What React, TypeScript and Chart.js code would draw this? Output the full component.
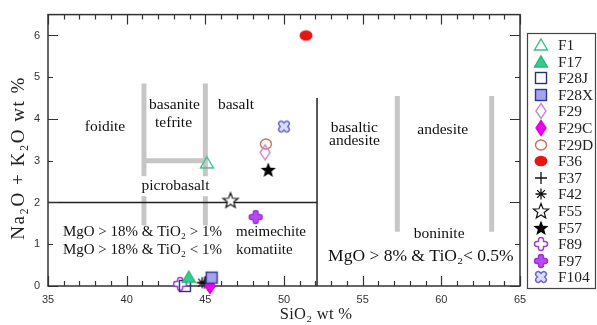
import React, { useEffect, useRef } from 'react';
import { Chart, registerables } from 'chart.js';

Chart.register(...registerables);

// ---- data ----
const seriesNames = ['F1', 'F17', 'F28J', 'F28X', 'F29', 'F29C', 'F29D', 'F36', 'F37', 'F42', 'F55', 'F57', 'F89', 'F97', 'F104'];
const sio2 = [45.1, 43.95, 43.7, 45.4, 48.8, 45.3, 48.85, 51.4, 44.95, 44.8, 46.6, 49.0, 43.4, 48.2, 50.0];
const alkali = [2.95, 0.21, 0.0, 0.2, 3.2, 0.0, 3.4, 6.0, 0.08, 0.08, 2.05, 2.78, 0.05, 1.65, 3.82];

const xTickValues = [35, 40, 45, 50, 55, 60, 65];
const yTickValues = [0, 1, 2, 3, 4, 5, 6];

// diagram boundaries (data coordinates)
const greyBoundaries = [
  [[41.1, 1.45], [41.1, 4.85]],
  [[45.0, 1.45], [45.0, 4.85]],
  [[41.1, 3.0], [45.0, 3.0]],
  [[57.2, 1.3], [57.2, 4.55]],
  [[63.2, 1.3], [63.2, 4.55]],
];
const blackBoundaries = [
  [[35, 2.0], [52.1, 2.0]],
  [[52.1, 0], [52.1, 4.5]],
];

const fieldNames = ['foidite', 'basanite', 'tefrite', 'basalt', 'picrobasalt', 'basaltic', 'andesite', 'andesite', 'boninite', 'MgO > 8% & TiO₂< 0.5%', 'MgO > 18% & TiO₂ > 1%', 'meimechite', 'MgO > 18% & TiO₂ < 1%', 'komatiite'];
const fieldX = [38.62, 43.04, 42.98, 46.95, 43.1, 54.47, 54.48, 60.09, 59.86, 58.7, 35.95, 46.95, 35.95, 46.95];
const fieldY = [3.8, 4.33, 3.9, 4.33, 2.39, 3.79, 3.47, 3.74, 1.24, 0.7, 1.29, 1.29, 0.86, 0.86];

// ---- styles ----
const markerKinds = ['triOpen', 'triFilled', 'sqOpen', 'sqFilled', 'diaOpen', 'diaFilled', 'ellOpen', 'ellFilled', 'plus', 'asterisk', 'starOpen', 'starFilled', 'fatPlusOpen', 'fatPlusFilled', 'fatX'];
const fieldAlign = ['center', 'center', 'center', 'center', 'center', 'center', 'center', 'center', 'center', 'center', 'left', 'left', 'left', 'left'];
const fieldSize = [15.5, 15.5, 15.5, 15.5, 15.5, 15.5, 15.5, 15.5, 15.5, 17.5, 15, 15, 15, 15];
const fieldWhiteBg = [false, false, false, false, true, false, false, false, false, false, false, false, false, false];

const SERIF = '"Liberation Serif", "Times New Roman", serif';
const SANS = '"Liberation Sans", Arial, sans-serif';

function makeMarker(kind: string): HTMLCanvasElement {
  const S = 20;
  const cv = document.createElement('canvas');
  cv.width = S;
  cv.height = S;
  const c = cv.getContext('2d') as CanvasRenderingContext2D;
  const m = S / 2;
  const tri = () => {
    c.beginPath();
    c.moveTo(m, m - 6);
    c.lineTo(m + 6.5, m + 5);
    c.lineTo(m - 6.5, m + 5);
    c.closePath();
  };
  const dia = () => {
    c.beginPath();
    c.moveTo(m, m - 7.5);
    c.lineTo(m + 5, m);
    c.lineTo(m, m + 7.5);
    c.lineTo(m - 5, m);
    c.closePath();
  };
  const star = () => {
    c.beginPath();
    for (let i = 0; i < 10; i++) {
      const r = i % 2 === 0 ? 8 : 3.4;
      const a = -Math.PI / 2 + (i * Math.PI) / 5;
      const px = m + r * Math.cos(a);
      const py = m + 0.5 + r * Math.sin(a);
      if (i === 0) c.moveTo(px, py);
      else c.lineTo(px, py);
    }
    c.closePath();
  };
  const fat = (rot: number, outer: string, inner: string) => {
    c.save();
    c.translate(m, m);
    c.rotate(rot);
    c.lineCap = 'round';
    c.beginPath();
    c.moveTo(-4, 0);
    c.lineTo(4, 0);
    c.moveTo(0, -4);
    c.lineTo(0, 4);
    c.strokeStyle = outer;
    c.lineWidth = 6.5;
    c.stroke();
    c.strokeStyle = inner;
    c.lineWidth = 3.6;
    c.stroke();
    c.restore();
  };
  c.lineWidth = 1.4;
  switch (kind) {
    case 'triOpen':
      tri();
      c.strokeStyle = '#3fbf8c';
      c.stroke();
      break;
    case 'triFilled':
      tri();
      c.fillStyle = '#33cc8e';
      c.fill();
      c.strokeStyle = '#2bb57c';
      c.stroke();
      break;
    case 'sqOpen':
      c.strokeStyle = '#2e2e80';
      c.strokeRect(m - 5.5, m - 5.5, 11, 11);
      break;
    case 'sqFilled':
      c.fillStyle = '#a4a4ee';
      c.fillRect(m - 5.5, m - 5.5, 11, 11);
      c.strokeStyle = '#333399';
      c.strokeRect(m - 5.5, m - 5.5, 11, 11);
      break;
    case 'diaOpen':
      dia();
      c.strokeStyle = '#cc88cc';
      c.stroke();
      break;
    case 'diaFilled':
      dia();
      c.fillStyle = '#f000f0';
      c.fill();
      c.strokeStyle = '#e000e0';
      c.stroke();
      break;
    case 'ellOpen':
      c.beginPath();
      c.ellipse(m, m, 5.5, 5, 0, 0, Math.PI * 2);
      c.strokeStyle = '#cf6a5a';
      c.stroke();
      break;
    case 'ellFilled':
      c.beginPath();
      c.ellipse(m, m, 6.5, 5.3, 0, 0, Math.PI * 2);
      c.fillStyle = '#e81515';
      c.fill();
      break;
    case 'plus':
      c.beginPath();
      c.moveTo(m - 6, m);
      c.lineTo(m + 6, m);
      c.moveTo(m, m - 6);
      c.lineTo(m, m + 6);
      c.strokeStyle = '#111';
      c.lineWidth = 1.3;
      c.stroke();
      break;
    case 'asterisk':
      c.beginPath();
      for (let i = 0; i < 4; i++) {
        const a = (i * Math.PI) / 4;
        c.moveTo(m - 5.5 * Math.cos(a), m - 5.5 * Math.sin(a));
        c.lineTo(m + 5.5 * Math.cos(a), m + 5.5 * Math.sin(a));
      }
      c.strokeStyle = '#111';
      c.lineWidth = 1.3;
      c.stroke();
      break;
    case 'starOpen':
      star();
      c.fillStyle = '#fff';
      c.fill();
      c.strokeStyle = '#111';
      c.lineWidth = 1.2;
      c.stroke();
      break;
    case 'starFilled':
      star();
      c.fillStyle = '#000';
      c.fill();
      break;
    case 'fatPlusOpen':
      fat(0, '#a040d8', '#ffffff');
      break;
    case 'fatPlusFilled':
      fat(0, '#9a34d6', '#b94cf0');
      break;
    case 'fatX':
      fat(Math.PI / 4, '#6b6bcc', '#dcdcfa');
      break;
  }
  return cv;
}

export default function App() {
  const ref = useRef<HTMLCanvasElement | null>(null);

  useEffect(() => {
    const canvas = ref.current;
    if (!canvas) return;
    const markers = markerKinds.map((k) => makeMarker(k));

    const overlay = {
      id: 'tasOverlay',
      beforeDatasetsDraw(chart: any) {
        const { ctx, chartArea: a } = chart;
        const xs = chart.scales.x;
        const ys = chart.scales.y;
        ctx.save();
        // grey boundaries
        ctx.strokeStyle = '#c6c6c6';
        ctx.lineWidth = 5;
        ctx.lineCap = 'butt';
        greyBoundaries.forEach(([p, q]) => {
          ctx.beginPath();
          ctx.moveTo(xs.getPixelForValue(p[0]), ys.getPixelForValue(p[1]));
          ctx.lineTo(xs.getPixelForValue(q[0]), ys.getPixelForValue(q[1]));
          ctx.stroke();
        });
        // black boundaries
        ctx.strokeStyle = '#222';
        ctx.lineWidth = 1.5;
        blackBoundaries.forEach(([p, q]) => {
          ctx.beginPath();
          ctx.moveTo(xs.getPixelForValue(p[0]), ys.getPixelForValue(p[1]));
          ctx.lineTo(xs.getPixelForValue(q[0]), ys.getPixelForValue(q[1]));
          ctx.stroke();
        });
        // frame
        ctx.strokeStyle = '#333';
        ctx.lineWidth = 1.5;
        ctx.strokeRect(a.left, a.top, a.right - a.left, a.bottom - a.top);
        // inward ticks
        ctx.lineWidth = 1.2;
        ctx.beginPath();
        for (let v = 35; v <= 65; v++) {
          const px = Math.round(xs.getPixelForValue(v)) + 0.5;
          const len = v % 5 === 0 ? 10 : 5;
          ctx.moveTo(px, a.bottom);
          ctx.lineTo(px, a.bottom - len);
          ctx.moveTo(px, a.top);
          ctx.lineTo(px, a.top + len);
        }
        for (let v = 0; v <= 6; v++) {
          const py = Math.round(ys.getPixelForValue(v)) + 0.5;
          const len = v % 2 === 0 ? 10 : 5;
          ctx.moveTo(a.left, py);
          ctx.lineTo(a.left + len, py);
          ctx.moveTo(a.right, py);
          ctx.lineTo(a.right - len, py);
        }
        ctx.stroke();
        // field labels
        ctx.textBaseline = 'middle';
        fieldNames.forEach((t, i) => {
          ctx.font = `${fieldSize[i]}px ${SERIF}`;
          ctx.textAlign = fieldAlign[i];
          const px = xs.getPixelForValue(fieldX[i]);
          const py = ys.getPixelForValue(fieldY[i]);
          if (fieldWhiteBg[i]) {
            const w = ctx.measureText(t).width;
            ctx.fillStyle = '#fff';
            ctx.fillRect(px - w / 2 - 2, py - 10, w + 4, 20);
          }
          ctx.fillStyle = '#111';
          ctx.fillText(t, px, py);
        });
        ctx.restore();
      },
      afterDraw(chart: any) {
        const { ctx } = chart;
        ctx.save();
        // legend box
        ctx.strokeStyle = '#444';
        ctx.lineWidth = 1.2;
        ctx.strokeRect(527.5, 33.5, 68, 255);
        ctx.font = `15.5px ${SERIF}`;
        ctx.fillStyle = '#222';
        ctx.textAlign = 'left';
        ctx.textBaseline = 'middle';
        seriesNames.forEach((n, i) => {
          const cy = 45 + i * 16.6;
          const mk = markers[i];
          ctx.drawImage(mk, Math.round(541 - mk.width / 2), Math.round(cy - mk.height / 2));
          ctx.fillText(n, 558, cy + 1);
        });
        // axis titles
        ctx.fillStyle = '#222';
        ctx.textAlign = 'center';
        ctx.textBaseline = 'middle';
        ctx.font = `19px ${SERIF}`;
        (ctx as any).letterSpacing = '1.5px';
        ctx.save();
        ctx.translate(19, 158);
        ctx.rotate(-Math.PI / 2);
        ctx.fillText('Na₂O + K₂O wt %', 0, 0);
        ctx.restore();
        ctx.font = `16.5px ${SERIF}`;
        (ctx as any).letterSpacing = '0.3px';
        ctx.fillText('SiO₂ wt %', 316, 315);
        (ctx as any).letterSpacing = '0px';
        ctx.restore();
      },
    };

    const chart = new Chart(canvas, {
      type: 'scatter',
      data: {
        datasets: seriesNames.map((n, i) => ({
          label: n,
          data: [{ x: sio2[i], y: alkali[i] }],
          pointStyle: markers[i] as any,
          pointRadius: 7,
          clip: false as any,
        })),
      },
      options: {
        responsive: false,
        animation: false,
        devicePixelRatio: 1,
        layout: { padding: { left: 0, right: 77, top: 14, bottom: 0 } },
        plugins: { legend: { display: false }, tooltip: { enabled: false } },
        scales: {
          x: {
            type: 'linear',
            min: 35,
            max: 65,
            afterBuildTicks: (s: any) => {
              s.ticks = xTickValues.map((v) => ({ value: v }));
            },
            afterFit: (s: any) => {
              s.height = 39;
            },
            ticks: { font: { family: SANS, size: 11 }, color: '#333', padding: 7, maxRotation: 0, autoSkip: false },
            grid: { display: false, drawTicks: false },
            border: { display: false },
          },
          y: {
            type: 'linear',
            min: 0,
            max: 6.5,
            afterBuildTicks: (s: any) => {
              s.ticks = yTickValues.map((v) => ({ value: v }));
            },
            afterFit: (s: any) => {
              s.width = 48;
            },
            ticks: { font: { family: SANS, size: 11 }, color: '#333', padding: 8 },
            grid: { display: false, drawTicks: false },
            border: { display: false },
          },
        },
      },
      plugins: [overlay],
    });
    return () => chart.destroy();
  }, []);

  return (
    <div style={{ position: 'absolute', left: 0, top: 0, width: 597, height: 325, background: '#fff' }}>
      <canvas ref={ref} width={597} height={325} style={{ display: 'block', width: 597, height: 325 }} />
    </div>
  );
}
